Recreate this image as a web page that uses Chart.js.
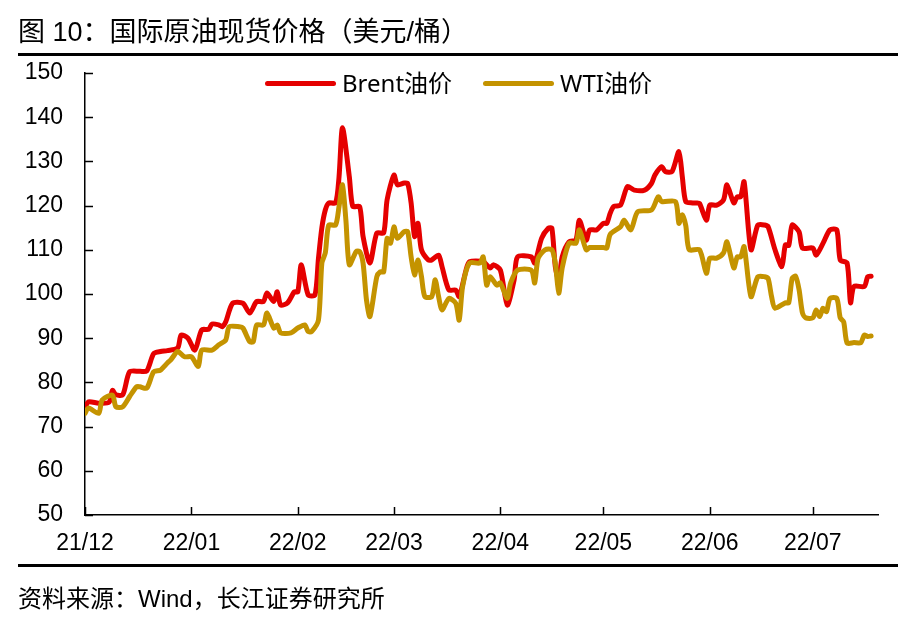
<!DOCTYPE html>
<html>
<head>
<meta charset="utf-8">
<script src="https://cdn.jsdelivr.net/npm/chart.js@4.4.1/dist/chart.umd.min.js"></script>
<style>
  body { margin: 0; background: #fff; }
  #wrap { position: relative; width: 913px; height: 629px; font-family: "Liberation Sans", "Noto Sans CJK SC", sans-serif; color: #000; }
  #title { position: absolute; left: 18px; top: 19px; font-size: 27px; line-height: 1; white-space: nowrap; }
  .rule { position: absolute; left: 18px; width: 880px; height: 3px; background: #000; }
  #src { position: absolute; left: 18px; top: 587px; font-size: 24px; line-height: 1; white-space: nowrap; }
  #legend { position: absolute; left: 265px; top: 71px; height: 24px; display: flex; align-items: center;
            font-family: "Noto Sans", "Noto Sans CJK SC", sans-serif; font-size: 24px; line-height: 24px; white-space: nowrap; }
  #legend .sw { display: inline-block; width: 71px; height: 5px; border-radius: 2.5px; margin-right: 6px; }
  #legend .item { display: flex; align-items: center; margin-right: 31px; }
  canvas { position: absolute; left: 0; top: 0; }
</style>
</head>
<body>
<div id="wrap">
  <canvas id="oilChart" width="913" height="629"></canvas>
  <div id="title">图 10：国际原油现货价格（美元/桶）</div>
  <div class="rule" style="top:53px"></div>
  <div id="legend"></div>
  <div class="rule" style="top:564px"></div>
  <div id="src">资料来源：Wind，长江证券研究所</div>
</div>
<script>
// x = calendar days since 2021-12-01
const monthStarts = [0, 31, 62, 90, 121, 151, 182, 212];
const monthLabels = ['21/12', '22/01', '22/02', '22/03', '22/04', '22/05', '22/06', '22/07'];

const brentDays = [0, 1, 4, 7, 8, 9, 11, 13, 16, 18, 20, 22, 24, 27, 28, 30, 32, 34, 36, 37, 39, 40, 41, 43, 46, 48, 50, 52, 53, 55, 56, 57, 59, 61, 62, 63, 65, 67, 68, 69, 70, 71, 73, 74, 75, 77, 78, 80, 81, 83, 85, 87, 88, 90, 91, 93, 94, 95, 96, 97, 98, 100, 101, 103, 104, 106, 108, 109, 111, 112, 116, 118, 119, 121, 123, 125, 126, 130, 131, 133, 135, 136, 137, 138, 139, 141, 143, 144, 146, 147, 149, 151, 152, 153, 154, 156, 158, 160, 163, 165, 166, 168, 169, 171, 173, 174, 175, 177, 178, 179, 181, 182, 184, 186, 187, 189, 190, 191, 192, 194, 196, 198, 199, 201, 203, 204, 205, 206, 208, 209, 212, 213, 215, 217, 219, 220, 222, 223, 224, 227, 228, 229];
const brent = [74.2, 75.6, 75.3, 75.5, 78.2, 77.2, 77.2, 82.4, 82.5, 82.6, 86.5, 87, 87.2, 87.8, 90.7, 90, 87.3, 91.9, 92, 93.2, 93, 92.6, 93.7, 97.9, 97.9, 95.7, 98.3, 98.3, 100.2, 98.3, 100.5, 97.5, 98, 100.5, 100.5, 106.6, 99.8, 99.8, 108, 115, 119, 120.6, 120.6, 126.5, 137.6, 126.5, 119.8, 119.8, 113, 107, 113.8, 113.8, 121.3, 126.9, 124.7, 125.1, 125, 120.6, 113, 116, 110, 107.7, 107.7, 108.8, 106.2, 100.9, 100.9, 99.4, 105.4, 107.3, 107.3, 105.9, 106.6, 105.4, 97.5, 103.2, 108.4, 108.4, 107, 112.6, 114.9, 114.9, 106.2, 103.2, 108.4, 111.8, 112.2, 116.7, 112.2, 114.5, 114.5, 116, 116, 118.3, 119.8, 120.1, 124.3, 123.5, 123.5, 125, 126.9, 128.8, 127.7, 127.7, 132.2, 126.5, 120.9, 120.6, 120.6, 120.5, 116.7, 120.1, 120.1, 121.3, 124.7, 120.6, 122, 122, 125.4, 110, 115.6, 115.6, 115.2, 110, 106.2, 111.1, 111, 115.6, 114.1, 110.4, 110.4, 108.8, 111.5, 114.5, 114.5, 107.7, 107, 98, 101.7, 101.7, 103.9, 104];

const wtiDays = [0, 1, 4, 5, 8, 9, 11, 13, 15, 16, 18, 20, 22, 24, 25, 27, 29, 31, 33, 34, 37, 39, 41, 42, 45, 46, 48, 49, 50, 52, 53, 55, 56, 57, 60, 62, 64, 65, 66, 68, 69, 70, 71, 73, 74, 75, 76, 77, 79, 80, 81, 82, 83, 85, 86, 87, 88, 89, 90, 91, 93, 94, 95, 96, 97, 98, 99, 101, 102, 103, 104, 106, 108, 109, 110, 112, 115, 116, 117, 118, 120, 121, 123, 124, 126, 130, 131, 132, 134, 136, 137, 138, 139, 141, 143, 144, 146, 147, 151, 152, 153, 156, 157, 159, 161, 165, 167, 168, 172, 173, 174, 175, 176, 179, 181, 182, 184, 186, 187, 189, 190, 191, 192, 194, 196, 198, 199, 200, 201, 204, 205, 206, 207, 208, 209, 210, 212, 213, 214, 215, 216, 217, 219, 220, 221, 222, 224, 226, 227, 228, 229];
const wti = [73, 74.2, 73, 76, 77.1, 74.5, 74.5, 76.8, 79, 79, 78.7, 82.4, 82.8, 84.4, 85.1, 87, 85.8, 85.8, 83.6, 87.3, 87.3, 88.5, 89.6, 92.6, 92.6, 92.3, 89.2, 89.2, 93, 93, 95.7, 92.3, 93, 91.2, 91.2, 92.3, 93, 91.5, 91.5, 94.1, 107, 109.3, 115.6, 115.6, 119.8, 124.7, 116.7, 106.6, 109.6, 109.6, 107, 98.6, 94.9, 103.9, 105, 105, 112.6, 111.5, 115.2, 112.6, 114.1, 114.1, 108.4, 104.3, 107.7, 104, 99.4, 99.4, 103.2, 99.4, 96.4, 99, 97.9, 94.1, 101.7, 107, 107, 108.4, 102, 103.9, 102, 102.5, 99, 102.5, 105.4, 105.4, 102.5, 108.1, 110, 110, 107, 100.2, 105.9, 111.5, 111.5, 114.5, 110, 110.5, 110.5, 110.4, 113.5, 115.2, 116.7, 114.5, 118.6, 119, 122, 120.9, 120.9, 116, 117.9, 115.5, 110, 110, 104.7, 108.1, 108.1, 109.3, 111.8, 105.9, 108.4, 108.4, 110.7, 99.4, 103.9, 103.9, 103.5, 99.4, 96.8, 98, 98, 103.6, 104, 101, 95.7, 94.6, 94.6, 96.4, 94.9, 96.8, 96, 99, 99, 94.6, 93.7, 88.9, 89, 89, 90.7, 90.4, 90.5];

const seriesNames = ['Brent油价', 'WTI油价'];
const seriesColors = ['#E50000', '#C49300'];

const toPoints = (days, vals) => days.map((d, i) => ({ x: d, y: vals[i] }));

// axis ticks point into the plot
const innerTicks = {
  id: 'innerTicks',
  beforeDatasetsDraw(chart) {
    const { ctx, chartArea: a, scales: { x, y } } = chart;
    ctx.save();
    ctx.strokeStyle = '#000';
    ctx.lineWidth = 1.5;
    ctx.beginPath();
    x.ticks.forEach(t => {
      const px = Math.round(x.getPixelForValue(t.value)) + 0.5;
      ctx.moveTo(px, a.bottom);
      ctx.lineTo(px, a.bottom - 8);
    });
    y.ticks.forEach(t => {
      const py = Math.round(y.getPixelForValue(t.value)) + 0.5;
      ctx.moveTo(a.left, py);
      ctx.lineTo(a.left + 8, py);
    });
    ctx.stroke();
    ctx.restore();
  }
};

Chart.defaults.font.family = '"Liberation Sans", "Noto Sans CJK SC", sans-serif';
Chart.defaults.color = '#000';

const chart = new Chart(document.getElementById('oilChart'), {
  type: 'line',
  data: {
    datasets: [
      {
        label: seriesNames[0],
        data: toPoints(brentDays, brent),
        borderColor: seriesColors[0],
        borderWidth: 5,
        order: 1
      },
      {
        label: seriesNames[1],
        data: toPoints(wtiDays, wti),
        borderColor: seriesColors[1],
        borderWidth: 5,
        order: 0
      }
    ]
  },
  options: {
    responsive: false,
    animation: false,
    layout: { padding: { left: 0, right: 35, top: 73, bottom: 64 } },
    elements: {
      point: { radius: 0 },
      line: { tension: 0.25, borderJoinStyle: 'round', borderCapStyle: 'round' }
    },
    plugins: {
      tooltip: { enabled: false },
      legend: { display: false }
    },
    scales: {
      x: {
        type: 'linear',
        min: 0,
        max: 231,
        afterBuildTicks: scale => { scale.ticks = monthStarts.map(v => ({ value: v })); },
        afterFit: scale => { scale.height = 50; },
        grid: { display: false, drawTicks: false },
        border: { display: true, color: '#000', width: 1.5 },
        ticks: {
          autoSkip: false,
          maxRotation: 0,
          padding: 15,
          font: { size: 23 },
          callback: v => monthLabels[monthStarts.indexOf(v)]
        }
      },
      y: {
        min: 50,
        max: 150,
        afterFit: scale => { scale.width = 85; },
        grid: { display: false, drawTicks: false },
        border: { display: true, color: '#000', width: 1.5 },
        ticks: { stepSize: 10, padding: 22, font: { size: 23 } }
      }
    }
  },
  plugins: [innerTicks]
});

// legend row across the top of the plot
const legendEl = document.getElementById('legend');
chart.data.datasets.forEach(ds => {
  const item = document.createElement('span');
  item.className = 'item';
  const sw = document.createElement('span');
  sw.className = 'sw';
  sw.style.background = ds.borderColor;
  item.appendChild(sw);
  item.appendChild(document.createTextNode(ds.label));
  legendEl.appendChild(item);
});
</script>
</body>
</html>
